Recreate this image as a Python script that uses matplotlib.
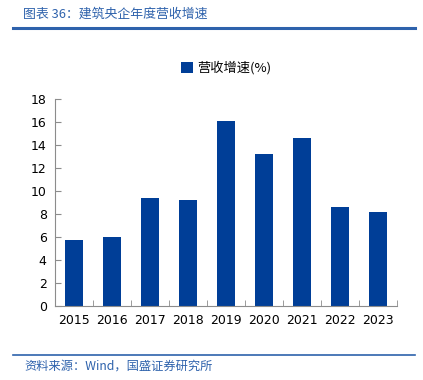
import matplotlib.pyplot as plt
from matplotlib.lines import Line2D

plt.rcParams['font.family'] = ['DejaVu Sans', 'Noto Sans CJK SC']

years = ['2015', '2016', '2017', '2018', '2019', '2020', '2021', '2022', '2023']
growth = [5.7, 6.0, 9.4, 9.2, 16.1, 13.2, 14.6, 8.6, 8.15]
yticks = [0, 2, 4, 6, 8, 10, 12, 14, 16, 18]

bar_color = '#003E97'
line_color = '#2E62AC'
axis_color = '#8C8C8C'

fig = plt.figure(figsize=(4.23, 3.80), dpi=100)
ax = fig.add_axes([0.130, 0.195, 0.8085, 0.5445])

x = range(len(years))
ax.bar(x, growth, width=0.46, color=bar_color, label='营收增速(%)')

ax.set_xlim(-0.5, len(years) - 0.5)
ax.set_ylim(0, 18)
ax.set_yticks(yticks)
ax.set_yticklabels([str(t) for t in yticks], fontsize=9)
ax.set_xticks(list(x))
ax.set_xticklabels(years, fontsize=9)
ax.tick_params(axis='x', length=0, pad=6)
ax.set_xticks([i + 0.5 for i in range(-1, len(years))], minor=True)
ax.tick_params(axis='x', which='minor', direction='in', length=4, color=axis_color)
ax.tick_params(axis='y', direction='in', length=4, color=axis_color, pad=6)

for s in ['top', 'right']:
    ax.spines[s].set_visible(False)
for s in ['left', 'bottom']:
    ax.spines[s].set_color(axis_color)
    ax.spines[s].set_linewidth(0.8)

ax.legend(loc='lower center', bbox_to_anchor=(0.5, 1.06), frameon=False,
          handlelength=0.9, handleheight=0.9, handletextpad=0.3,
          prop={'family': ['Noto Sans CJK SC', 'DejaVu Sans'], 'size': 9.5})

fig.text(0.055, 0.962, '图表 36：建筑央企年度营收增速', color=line_color,
         fontsize=9.3, style='italic', va='center',
         family=['Noto Sans CJK SC', 'DejaVu Sans'])
fig.add_artist(Line2D([0.031, 0.982], [0.926, 0.926], color=line_color, lw=2.2))
fig.add_artist(Line2D([0.031, 0.982], [0.066, 0.066], color=line_color, lw=1.2))
fig.text(0.058, 0.037, '资料来源：Wind，国盛证券研究所', color=line_color,
         fontsize=8.8, style='italic', va='center',
         family=['Noto Sans CJK SC', 'DejaVu Sans'])

fig.savefig('out.png', dpi=100, facecolor='white')
